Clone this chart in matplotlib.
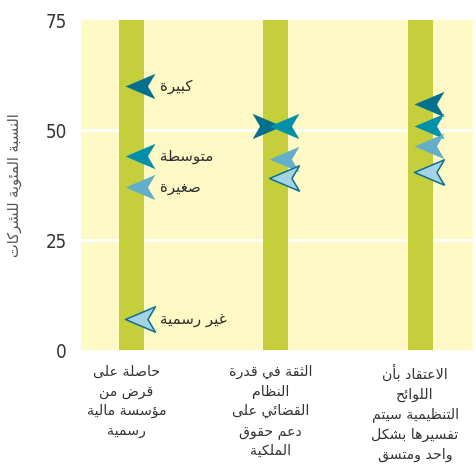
import numpy as np
import matplotlib
matplotlib.use('Agg')
import matplotlib.pyplot as plt
from matplotlib.path import Path

# ---- data ----
categories = ['حاصلة على\nقرض من\nمؤسسة مالية\nرسمية',
              'الثقة في قدرة\nالنظام\nالقضائي على\nدعم حقوق\nالملكية',
              'الاعتقاد بأن\nاللوائح\nالتنظيمية سيتم\nتفسيرها بشكل\nواحد ومتسق']
series_names = ['كبيرة', 'متوسطة', 'صغيرة', 'غير رسمية']
large = [60, 51, 56]
medium = [44, 51, 51]
small = [37, 43.5, 46.5]
informal = [7, 39, 40.5]
y_ticks = [0, 25, 50, 75]
y_label = 'النسبة المئوية للشركات'

# ---- arabic shaping (matplotlib has no bidi / joining) ----
_forms = {
    '\u0621': (0xFE80, 1), '\u0622': (0xFE81, 2), '\u0623': (0xFE83, 2), '\u0624': (0xFE85, 2),
    '\u0625': (0xFE87, 2), '\u0626': (0xFE89, 4), '\u0627': (0xFE8D, 2), '\u0628': (0xFE8F, 4),
    '\u0629': (0xFE93, 2), '\u062A': (0xFE95, 4), '\u062B': (0xFE99, 4), '\u062C': (0xFE9D, 4),
    '\u062D': (0xFEA1, 4), '\u062E': (0xFEA5, 4), '\u062F': (0xFEA9, 2), '\u0630': (0xFEAB, 2),
    '\u0631': (0xFEAD, 2), '\u0632': (0xFEAF, 2), '\u0633': (0xFEB1, 4), '\u0634': (0xFEB5, 4),
    '\u0635': (0xFEB9, 4), '\u0636': (0xFEBD, 4), '\u0637': (0xFEC1, 4), '\u0638': (0xFEC5, 4),
    '\u0639': (0xFEC9, 4), '\u063A': (0xFECD, 4), '\u0641': (0xFED1, 4), '\u0642': (0xFED5, 4),
    '\u0643': (0xFED9, 4), '\u0644': (0xFEDD, 4), '\u0645': (0xFEE1, 4), '\u0646': (0xFEE5, 4),
    '\u0647': (0xFEE9, 4), '\u0648': (0xFEED, 2), '\u0649': (0xFEEF, 2), '\u064A': (0xFEF1, 4),
}
_lam_alef = {'\u0622': 0xFEF5, '\u0623': 0xFEF7, '\u0625': 0xFEF9, '\u0627': 0xFEFB}


def _joins(ch):
    return (ch in _forms and _forms[ch][1] > 1) or ch == '\u0640'


def _dual(ch):
    return (ch in _forms and _forms[ch][1] == 4) or ch == '\u0640'


def shape_line(s):
    out = []
    i = 0
    while i < len(s):
        ch = s[i]
        conn_prev = i > 0 and _dual(s[i - 1]) and _joins(ch)
        if ch == '\u0644' and i + 1 < len(s) and s[i + 1] in _lam_alef:
            out.append(chr(_lam_alef[s[i + 1]] + (1 if conn_prev else 0)))
            i += 2
            continue
        if ch not in _forms:
            out.append(ch)
            i += 1
            continue
        base, k = _forms[ch]
        nxt = s[i + 1] if i + 1 < len(s) else ''
        conn_next = k == 4 and _joins(nxt)
        if conn_prev and conn_next:
            idx = 3
        elif conn_prev:
            idx = 1
        elif conn_next:
            idx = 2
        else:
            idx = 0
        out.append(chr(base + idx))
        i += 1
    return ''.join(out[::-1])


def ar(text):
    return '\n'.join(shape_line(l) for l in text.split('\n'))


# ---- style ----
plt.rcParams['font.family'] = ['DejaVu Sans']
bg = '#FEF9C5'
bar_col = '#C5CE3B'
cols = ['#04708F', '#0090A9', '#63AEC8', '#A6D3E3']
edge_col = '#0B7191'

left_arrow = Path([(-1, 0), (1, 0.85), (0.5, 0), (1, -0.85), (-1, 0)],
                  [Path.MOVETO, Path.LINETO, Path.LINETO, Path.LINETO, Path.CLOSEPOLY])
right_arrow = Path(left_arrow.vertices * np.array([-1, 1]), left_arrow.codes)

fig = plt.figure(figsize=(4.76, 4.68), dpi=100)
ax = fig.add_axes([0.170, 0.252, 0.824, 0.705])
ax.set_facecolor(bg)
for s in ax.spines.values():
    s.set_visible(False)

x = np.arange(len(categories))
ax.set_xlim(-0.35, 2.367)
ax.set_ylim(0, 75)

for yv in [25, 50]:
    ax.axhline(yv, color='white', lw=2.2, zorder=1)

ax.bar(x, 75, width=0.173, color=bar_col, zorder=2)

dx = 0.06
ms = 21.5
flip = [l == m for l, m in zip(large, medium)]
all_series = [large, medium, small, informal]
for si, vals in enumerate(all_series):
    for i, v in enumerate(vals):
        if si == 0 and flip[i]:
            mk, xo = right_arrow, -dx
        else:
            mk, xo = left_arrow, dx
        if si == 3:
            ax.plot(i + xo, v, marker=mk, ms=ms, ls='none', mfc=cols[si], mec=edge_col,
                    mew=1.1, zorder=3 + si)
        else:
            ax.plot(i + xo, v, marker=mk, ms=ms, ls='none', mfc=cols[si], mec='none',
                    zorder=3 + si)
    # series name next to first category
    ax.text(0.198, vals[0], ar(series_names[si]), fontsize=10.8, color='#2e2e2e',
            ha='left', va='center', zorder=10)

ax.set_xticks([])
ax.set_yticks(y_ticks)
ax.set_yticklabels([str(t) for t in y_ticks], fontsize=13.5, color='#333333',
                   family=['DejaVu Sans'], fontstretch='condensed')
ax.tick_params(axis='y', length=0, pad=10)

for i, c in enumerate(categories):
    ax.text(i - 0.035, -0.045, ar(c), transform=ax.get_xaxis_transform(), ha='center',
            va='top', fontsize=10.2, color='#333333', linespacing=1.5)

ax.set_ylabel(ar(y_label), fontsize=10.5, color='#555555')
ax.yaxis.set_label_coords(-0.15, 0.5)

fig.savefig('out.png', dpi=100, facecolor='white')
